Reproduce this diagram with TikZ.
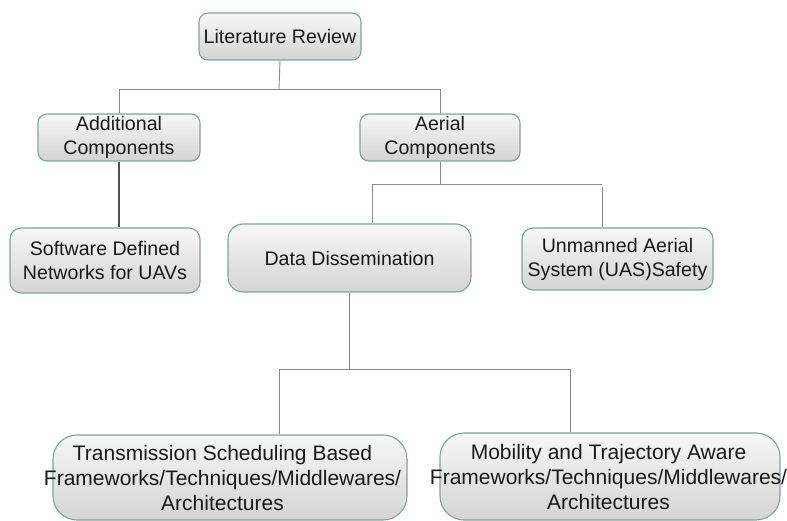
\documentclass[tikz,border=0pt]{standalone}
\usepackage{fontspec}
\setmainfont{Liberation Sans}
% a centred line that may run past the edges of its box
\newcommand{\spillline}[2][0pt]{\makebox[0pt]{\kern#1#2}}
\begin{document}
\begin{tikzpicture}[x=1pt,y=-1pt,
  box/.style={draw=boxline, line width=1.1pt, top color=boxtop, bottom color=boxbot,
    align=center, inner sep=0pt, text=black!90,
    font=\fontsize{19.6}{24}\selectfont},
  bigbox/.style={box, font=\fontsize{21}{25}\selectfont},
  link/.style={draw=linkgray, line width=0.9pt},
  stem/.style={draw=stemgray, line width=1.6pt}]
\definecolor{boxline}{HTML}{76A79E}
\definecolor{boxtop}{HTML}{F7F7F7}
\definecolor{boxbot}{HTML}{D4D4D4}
\definecolor{linkgray}{HTML}{8A8A8A}
\definecolor{stemgray}{HTML}{505050}
\useasboundingbox (0,0) rectangle (787,521);

% boxes
\node[box, rounded corners=9pt, minimum width=162pt, minimum height=47pt] (lr) at (280,36.5) {Literature Review};
\node[box, rounded corners=9pt, minimum width=162pt, minimum height=47pt] (add) at (119,137.5) {Additional\\Components};
\node[box, rounded corners=9pt, minimum width=160pt, minimum height=47pt] (aer) at (440,137.5) {Aerial\\Components};
\node[box, rounded corners=11pt, minimum width=190pt, minimum height=65pt] (sdn) at (105,260.5) {Software Defined\\Networks for UAVs};
\node[box, rounded corners=15pt, minimum width=243pt, minimum height=68pt] (dd) at (349.5,258) {Data Dissemination};
\node[box, rounded corners=11pt, minimum width=191pt, minimum height=62pt] (uas) at (617.5,259) {Unmanned Aerial\\System (UAS)Safety};
\node[bigbox, rounded corners=24pt, minimum width=354pt, minimum height=85pt] (ts) at (230,477.5)
  {\spillline[-15pt]{Transmission Scheduling Based}\\
   \spillline[-15pt]{Frameworks/Techniques/Middlewares/}\\
   \spillline[-15pt]{Architectures}};
\node[bigbox, rounded corners=24pt, minimum width=340pt, minimum height=87pt] (mt) at (610,476.5)
  {\spillline[-3pt]{Mobility and Trajectory Aware}\\
   \spillline[-3pt]{Frameworks/Techniques/Middlewares/}\\
   \spillline[-3pt]{Architectures}};

% junction points of the tree
\coordinate (j1) at (279,89);
\coordinate (j2l) at (372,184);
\coordinate (j2r) at (602,184);
\coordinate (j3l) at (279,369);
\coordinate (j3r) at (570,369);

% connectors
\draw[link] (lr.south) -- (j1);
\draw[link] (add.north) |- (j1);
\draw[link] (aer.north) |- (j1);
\draw[stem] (add.south) -- (add.south |- sdn.north);
\draw[link] (aer.south) -- (aer.south |- j2l);
\draw[link] (j2l) -- (j2r);
\draw[link] (j2l) -- (j2l |- dd.north);
\draw[link] ([yshift=-3pt]j2r) -- (j2r |- uas.north);
\draw[link] (dd.south) -- (dd.south |- j3l);
\draw[link] (j3l) -- (j3r);
\draw[link] (j3l) -- (j3l |- ts.north);
\draw[link] (j3r) -- (j3r |- mt.north);
\end{tikzpicture}
\end{document}
